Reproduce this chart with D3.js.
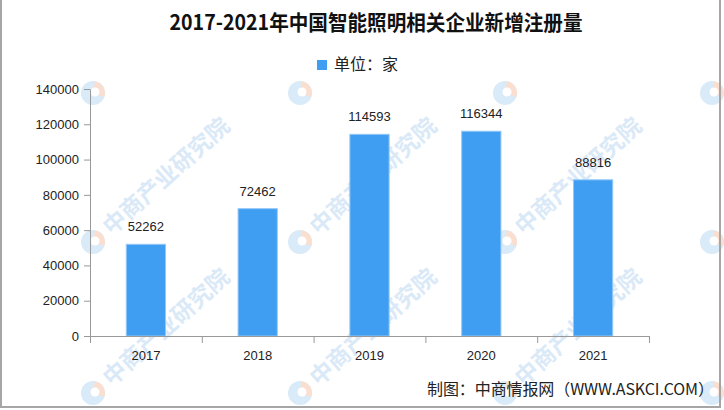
<!DOCTYPE html>
<html>
<head>
<meta charset="utf-8">
<script src="https://cdn.jsdelivr.net/npm/d3@7"></script>
<style>
  body { margin: 0; background: #fff; }
  svg { display: block; }
</style>
</head>
<body>
<svg id="chart" width="724" height="410"></svg>
<script>
"use strict";

//// data
const years = ["2017", "2018", "2019", "2020", "2021"];
const counts = [52262, 72462, 114593, 116344, 88816];
const yTicks = [0, 20000, 40000, 60000, 80000, 100000, 120000, 140000];
const titleText = "2017-2021年中国智能照明相关企业新增注册量";
const legendText = "单位：家";
const sourceText = "制图：中商情报网（WWW.ASKCI.COM）";
const markText = "中商产业研究院";

(function () {
    const svg = d3.select("#chart");
    const barColor = "#3f9ef2";
    const latin = "'Liberation Sans', Arial, sans-serif";
    const cjk = "'Noto Sans CJK SC', sans-serif";

    //// watermarks (behind everything); text only where it stays inside the picture
    const marks = svg.append("g").attr("class", "watermarks");
    const markX = [93, 300, 505, 712];
    const markY = [93, 242, 393];
    markX.forEach(function (mx) {
        markY.forEach(function (my) {
            const g = marks.append("g").attr("transform", "translate(" + mx + "," + my + ")");
            g.append("circle").attr("r", 12).attr("fill", "#d9eaf8");
            g.append("path")
                .attr("d", d3.arc()({innerRadius: 0, outerRadius: 12, startAngle: 0.15, endAngle: 1.9}))
                .attr("fill", "#fadfd1");
            g.append("circle").attr("r", 4.5).attr("cx", 2).attr("cy", -1).attr("fill", "#fff");
            if (my > 100 && mx < 700) {
                g.append("text")
                    .attr("transform", "rotate(-42)")
                    .attr("x", 18).attr("y", 8)
                    .attr("font-family", cjk)
                    .attr("font-weight", "bold")
                    .attr("font-size", 23)
                    .attr("fill", "#dae9f7")
                    .text(markText);
            }
        });
    });

    //// scales
    const x = d3.scaleBand().domain(years).range([90, 649]).paddingInner(0.64).paddingOuter(0.32);
    const xEdges = d3.scaleLinear().domain([0, years.length]).range(x.range());
    const y = d3.scaleLinear().domain([0, 140000]).range([336, 89]);

    //// bars
    svg.append("g").selectAll("rect")
        .data(years)
        .enter().append("rect")
            .attr("x", function (d) { return x(d) + 0.5; })
            .attr("y", function (d, i) { return y(counts[i]) + 0.5; })
            .attr("width", x.bandwidth() - 1)
            .attr("height", function (d, i) { return y(0) - y(counts[i]) - 0.5; })
            .attr("fill", barColor)
            .attr("stroke", "#93c9f7")
            .attr("stroke-width", 1);

    //// value labels
    svg.append("g").selectAll("text")
        .data(years)
        .enter().append("text")
            .attr("x", function (d) { return x(d) + x.bandwidth() / 2; })
            .attr("y", function (d, i) { return y(counts[i]) - 12.5; })
            .attr("text-anchor", "middle")
            .attr("font-family", latin)
            .attr("font-size", 13)
            .attr("fill", "#222")
            .text(function (d, i) { return counts[i]; });

    //// y axis
    const yAxis = svg.append("g")
        .attr("transform", "translate(90,0)")
        .call(d3.axisLeft(y).tickValues(yTicks).tickFormat(d3.format("d"))
            .tickSize(6).tickSizeOuter(0).tickPadding(5));
    yAxis.selectAll("text").attr("font-family", latin).attr("font-size", 13).attr("fill", "#222");
    yAxis.selectAll("line, path").attr("stroke", "#999");

    //// x axis: edge ticks + labels
    const xAxis = svg.append("g")
        .attr("transform", "translate(0," + y(0) + ")")
        .call(d3.axisBottom(xEdges).ticks(years.length).tickFormat("").tickSize(7).tickSizeOuter(0));
    xAxis.selectAll("line, path").attr("stroke", "#999");

    const xLabels = svg.append("g")
        .attr("transform", "translate(0," + y(0) + ")")
        .call(d3.axisBottom(x).tickSize(0).tickPadding(15));
    xLabels.select(".domain").remove();
    xLabels.selectAll("text").attr("font-family", latin).attr("font-size", 13).attr("fill", "#222");

    //// title
    svg.append("text")
        .attr("x", 376).attr("y", 30)
        .attr("text-anchor", "middle")
        .attr("font-family", cjk)
        .attr("font-weight", "bold")
        .attr("font-size", 21)
        .attr("textLength", 413)
        .attr("lengthAdjust", "spacingAndGlyphs")
        .attr("fill", "#111")
        .text(titleText);

    //// legend
    svg.append("rect")
        .attr("x", 317).attr("y", 60)
        .attr("width", 10).attr("height", 10)
        .attr("fill", barColor);
    svg.append("text")
        .attr("x", 334).attr("y", 70)
        .attr("font-family", cjk)
        .attr("font-size", 16)
        .attr("fill", "#222")
        .text(legendText);

    //// source
    svg.append("text")
        .attr("x", 427).attr("y", 395)
        .attr("font-family", cjk)
        .attr("font-size", 16)
        .attr("textLength", 287)
        .attr("fill", "#222")
        .text(sourceText);

    //// frame
    svg.append("rect")
        .attr("x", 1).attr("y", -2)
        .attr("width", 719).attr("height", 409)
        .attr("fill", "none")
        .attr("stroke", "#a6a6a6")
        .attr("stroke-width", 2);
})();
</script>
</body>
</html>
